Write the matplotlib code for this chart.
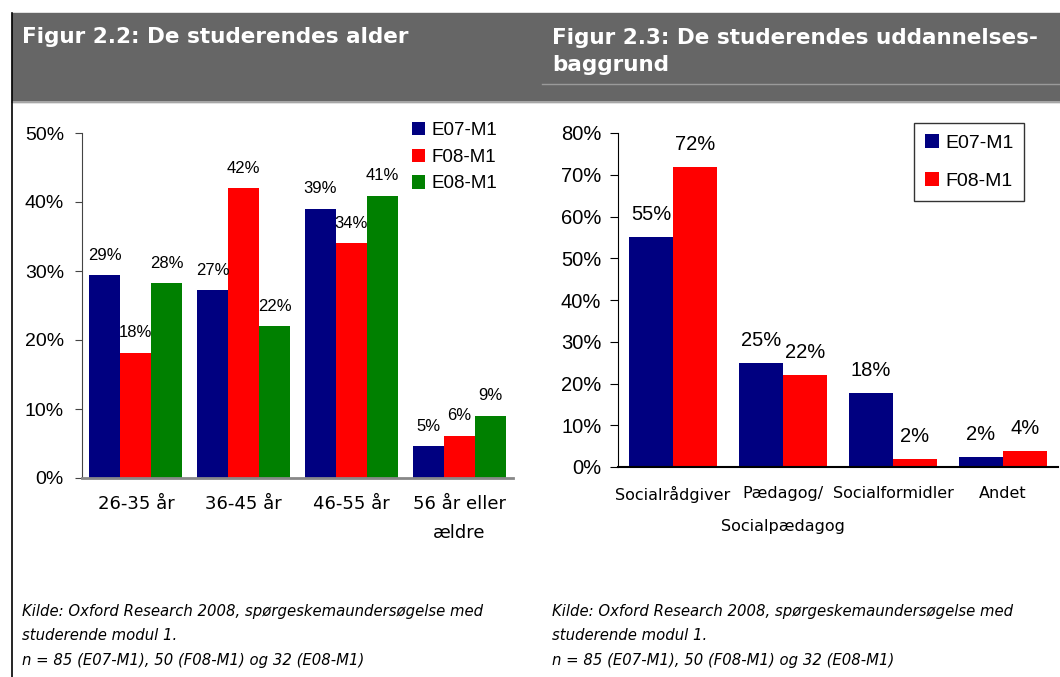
import numpy as np
import matplotlib.pyplot as plt
from matplotlib.patches import Rectangle
from matplotlib.lines import Line2D

#%% data
age_groups = ['26-35 år', '36-45 år', '46-55 år', '56 år eller\nældre']
age_names = ['E07-M1', 'F08-M1', 'E08-M1']
age_e07 = [29.4, 27.2, 39.0, 4.6]
age_f08 = [18.1, 42.0, 34.0, 6.1]
age_e08 = [28.2, 22.0, 40.9, 9.0]

edu_groups = ['Socialrådgiver', 'Pædagog/\nSocialpædagog', 'Socialformidler', 'Andet']
edu_names = ['E07-M1', 'F08-M1']
edu_e07 = [55.1, 24.9, 17.7, 2.4]
edu_f08 = [71.9, 22.0, 1.9, 3.8]

colors = ['#000080', '#ff0000', '#008000']
source_text = ("Kilde: Oxford Research 2008, spørgeskemaundersøgelse med\n"
               "studerende modul 1.\n"
               "n = 85 (E07-M1), 50 (F08-M1) og 32 (E08-M1)")

#%% figure
W, H = 1060, 677
fig = plt.figure(figsize=(W / 100, H / 100), dpi=100)

def box(x0, y0, x1, y1):
    # pixel box (top-left origin) -> figure fraction
    return [x0 / W, 1 - y1 / H, (x1 - x0) / W, (y1 - y0) / H]

# gray header bar and frame lines
fig.patches.append(Rectangle((12 / W, 1 - 102 / H), (W - 12) / W, 89 / H,
                             transform=fig.transFigure, color='#666666', zorder=0))
fig.lines.append(Line2D([12 / W, 1], [1 - 102 / H] * 2, transform=fig.transFigure,
                        color='#b4b4b4', lw=1.2))
fig.lines.append(Line2D([542 / W, 1], [1 - 84 / H] * 2, transform=fig.transFigure,
                        color='#9a9a9a', lw=1))
fig.lines.append(Line2D([12 / W] * 2, [0, 1 - 13 / H], transform=fig.transFigure,
                        color='black', lw=1.2))

# titles (baseline = last line)
title_font = dict(family='DejaVu Sans', weight='bold', color='white', fontsize=15.5)
fig.text(22 / W, 1 - 43 / H, 'Figur 2.2: De studerendes alder', va='baseline', **title_font)
fig.text(552 / W, 1 - 71 / H, 'Figur 2.3: De studerendes uddannelses-\nbaggrund',
         va='baseline', linespacing=1.46, **title_font)

for x in (22, 552):
    fig.text(x / W, 1 - 665 / H, source_text, va='baseline', fontsize=10.7,
             family='DejaVu Sans', style='italic', linespacing=1.81)

#%% left chart: age
ax1 = fig.add_axes(box(82, 133, 513, 478))
x = np.arange(len(age_groups))
bw = 0.287
for i, (vals, name) in enumerate(zip([age_e07, age_f08, age_e08], age_names)):
    bars = ax1.bar(x + (i - 1) * bw, vals, bw, color=colors[i], label=name)
    for b, v in zip(bars, vals):
        ax1.annotate('%.0f%%' % v, (b.get_x() + b.get_width() / 2, v),
                     xytext=(0, 14.5), textcoords='offset points',
                     ha='center', va='center', fontsize=12, family='Liberation Sans')
ax1.set_xlim(-0.5, 3.5)
ax1.set_ylim(0, 50)
ax1.set_yticks(np.arange(0, 51, 10))
ax1.set_yticklabels(['%d%%' % t for t in range(0, 51, 10)], family='Liberation Sans', fontsize=14)
ax1.set_xticks(x)
ax1.set_xticklabels(age_groups, family='DejaVu Sans', fontsize=13, linespacing=1.8)
ax1.tick_params(axis='x', length=0, pad=12)
ax1.tick_params(axis='y', length=5, pad=8, color='#444444')
ax1.spines[['top', 'right']].set_visible(False)
ax1.spines['left'].set_color('#444444')
ax1.spines['bottom'].set_color('#888888')
ax1.spines['bottom'].set_linewidth(2)
ax1.legend(loc='upper left', bbox_to_anchor=(412 / W, 1 - 122 / H),
           bbox_transform=fig.transFigure, frameon=False,
           prop={'family': 'Liberation Sans', 'size': 13.5},
           handlelength=0.7, handleheight=0.7, handletextpad=0.35,
           labelspacing=0.51, borderpad=0, borderaxespad=0)

#%% right chart: education
ax2 = fig.add_axes(box(618, 133, 1058, 467))
bw = 0.4
for i, (vals, name) in enumerate(zip([edu_e07, edu_f08], edu_names)):
    bars = ax2.bar(x + (i - 0.5) * bw, vals, bw, color=colors[i], label=name)
    for b, v in zip(bars, vals):
        ax2.annotate('%.0f%%' % v, (b.get_x() + b.get_width() / 2, v),
                     xytext=(0, 16), textcoords='offset points',
                     ha='center', va='center', fontsize=14.5, family='Liberation Sans')
ax2.set_xlim(-0.5, 3.5)
ax2.set_ylim(0, 80)
ax2.set_yticks(np.arange(0, 81, 10))
ax2.set_yticklabels(['%d%%' % t for t in range(0, 81, 10)], family='Liberation Sans', fontsize=14.5)
ax2.set_xticks(x)
# first line as tick label, wrapped rest placed below it
ax2.set_xticklabels([g.split('\n')[0] for g in edu_groups], family='DejaVu Sans', fontsize=11.5)
for xi, g in zip(x, edu_groups):
    if '\n' in g:
        ax2.annotate(g.split('\n')[1], (xi, 0), xytext=(0, -43), textcoords='offset points',
                     ha='center', va='center', fontsize=11.5, family='DejaVu Sans',
                     annotation_clip=False)
ax2.tick_params(axis='x', length=0, pad=14)
ax2.tick_params(axis='y', length=6, pad=6)
ax2.spines[['top', 'right']].set_visible(False)
ax2.spines['bottom'].set_linewidth(1.5)
leg = ax2.legend(loc='upper left', bbox_to_anchor=(914 / W, 1 - 123 / H),
                 bbox_transform=fig.transFigure, fancybox=False, edgecolor='black',
                 prop={'family': 'Liberation Sans', 'size': 14},
                 handlelength=0.75, handleheight=0.75, handletextpad=0.3,
                 labelspacing=1.06, borderpad=0.55, borderaxespad=0)
leg.get_frame().set_linewidth(1)

fig.savefig('out.png', dpi=100)
